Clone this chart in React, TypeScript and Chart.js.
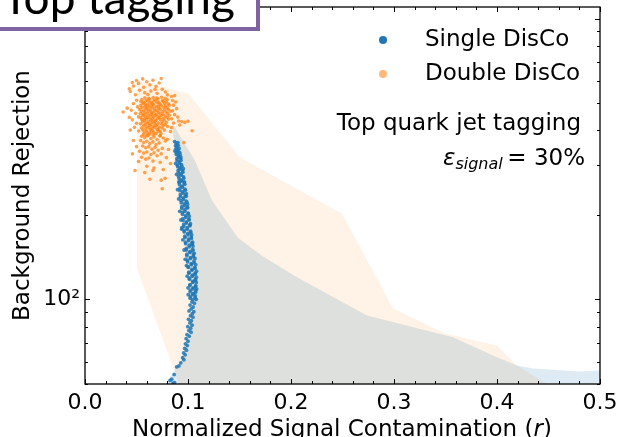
import { useEffect, useRef } from 'react';
import { Chart, registerables } from 'chart.js';

Chart.register(...registerables);

type Pt = [number, number];

// Axis ticks
const xMajorTicks = [0, 0.1, 0.2, 0.3, 0.4, 0.5];
const xTickLabels = ['0.0', '0.1', '0.2', '0.3', '0.4', '0.5'];
const xMinorTicks = [0.02, 0.04, 0.06, 0.08, 0.12, 0.14, 0.16, 0.18, 0.22, 0.24, 0.26, 0.28, 0.32, 0.34, 0.36, 0.38, 0.42, 0.44, 0.46, 0.48];
const yMajorTicks = [100, 1000];
const yTickLabels = ['10²', '10³'];
const yMinorTicks = [50, 60, 70, 80, 90, 200, 300, 400, 500, 600, 700, 800, 900];

// Spread of the Double DisCo runs (outline of the shaded region)
const doubleDiscoBand: Pt[] = [
  [0.0505, 602], [0.1003, 541], [0.1505, 320], [0.2495, 202], [0.299, 93],
  [0.3495, 75.7], [0.4, 68.6], [0.4194, 58.2], [0.4485, 50], [0.0913, 50], [0.0505, 129],
];

// Spread of the Single DisCo runs
const singleDiscoBand: Pt[] = [
  [0.0845, 427], [0.1068, 312], [0.1233, 225], [0.1485, 166], [0.1718, 143], [0.2058, 120],
  [0.2738, 87.7], [0.3573, 73.3], [0.3961, 63.2], [0.4194, 58.2], [0.435, 56.8], [0.4806, 55.4],
  [0.5, 55.9], [0.5, 50], [0.0786, 50], [0.0854, 55], [0.0951, 61.7], [0.1019, 77.6],
  [0.1049, 99.2], [0.1019, 126.8], [0.0981, 176], [0.0922, 244], [0.0874, 339],
];

// Single DisCo: (signal contamination, background rejection)
const singleDisco: Pt[] = [
  [0.0870, 365], [0.0886, 360], [0.0902, 362],
  [0.0879, 353], [0.0893, 350], [0.0905, 354],
  [0.0882, 344], [0.0898, 341], [0.0914, 345],
  [0.0885, 333], [0.0901, 337], [0.0918, 334],
  [0.0887, 328], [0.0908, 325], [0.0923, 329],
  [0.0892, 317], [0.0911, 321], [0.0929, 318],
  [0.0894, 312], [0.0915, 309], [0.0932, 313],
  [0.0895, 301], [0.0918, 305], [0.0937, 302],
  [0.0900, 297], [0.0920, 294], [0.0940, 298],
  [0.0904, 288], [0.0925, 291], [0.0947, 287],
  [0.0907, 283], [0.0929, 280], [0.0950, 284],
  [0.0908, 274], [0.0935, 277], [0.0957, 273],
  [0.0914, 269], [0.0936, 266], [0.0958, 270],
  [0.0916, 261], [0.0941, 264], [0.0962, 260],
  [0.0917, 256], [0.0943, 253], [0.0969, 257],
  [0.0920, 248], [0.0945, 251], [0.0970, 247],
  [0.0921, 244], [0.0950, 242], [0.0975, 245],
  [0.0925, 236], [0.0951, 239], [0.0976, 235],
  [0.0927, 232], [0.0956, 230], [0.0982, 233],
  [0.0932, 225], [0.0956, 227], [0.0983, 224],
  [0.0934, 221], [0.0964, 219], [0.0989, 222],
  [0.0939, 214], [0.0966, 216], [0.0992, 213],
  [0.0940, 211], [0.0970, 209], [0.0997, 212],
  [0.0945, 204], [0.0970, 206], [0.1001, 203],
  [0.0947, 201], [0.0978, 199], [0.1003, 202],
  [0.0951, 194], [0.0979, 196], [0.1009, 193],
  [0.0952, 191], [0.0985, 189], [0.1011, 192],
  [0.0958, 185], [0.0984, 187], [0.1016, 184],
  [0.0959, 182], [0.0992, 180], [0.1019, 183],
  [0.0963, 176], [0.0993, 178], [0.1025, 175],
  [0.0963, 174], [0.0998, 172], [0.1026, 173],
  [0.0969, 168], [0.1000, 170], [0.1032, 167],
  [0.0971, 166], [0.1005, 164], [0.1033, 165],
  [0.0976, 160], [0.1006, 162], [0.1038, 159],
  [0.0977, 158], [0.1012, 156], [0.1040, 157],
  [0.0983, 152], [0.1012, 154], [0.1046, 151],
  [0.0984, 150], [0.1019, 148], [0.1048, 149],
  [0.0989, 145], [0.1019, 147], [0.1052, 144],
  [0.0989, 143], [0.1024, 141], [0.1053, 142],
  [0.0995, 138], [0.1025, 140], [0.1058, 137],
  [0.0996, 136], [0.1031, 134], [0.1060, 135],
  [0.1002, 131], [0.1033, 133], [0.1066, 130],
  [0.1003, 130], [0.1038, 128], [0.1067, 129],
  [0.1008, 125], [0.1038, 127], [0.1070, 124],
  [0.1009, 124], [0.1042, 122], [0.1069, 123],
  [0.1014, 119], [0.1042, 121], [0.1072, 118],
  [0.1014, 118], [0.1046, 116], [0.1072, 117],
  [0.1019, 113], [0.1046, 115], [0.1075, 112],
  [0.1019, 112], [0.1049, 110], [0.1073, 111],
  [0.1022, 108], [0.1048, 109], [0.1076, 107.5],
  [0.1021, 106.5], [0.1049, 105], [0.1073, 106],
  [0.1023, 102.5], [0.1046, 104], [0.1071, 103],
  [0.1021, 101], [0.1047, 100], [0.1069, 101.5],
  // scattered runs along both edges of the band
  [0.0872, 338], [0.0930, 322], [0.0880, 305], [0.0955, 292], [0.0889, 279], [0.0966, 262],
  [0.0898, 246], [0.0984, 238], [0.0909, 228], [0.0996, 218], [0.0920, 206], [0.1012, 198],
  [0.0931, 192], [0.1024, 186], [0.0939, 178], [0.1035, 170], [0.0950, 163], [0.1048, 155],
  [0.0962, 150], [0.1060, 146], [0.0973, 139], [0.1068, 140], [0.0985, 132], [0.1075, 133],
  [0.0992, 121], [0.1081, 120], [0.1000, 110], [0.1084, 109], [0.1002, 104], [0.1080, 100],
  [0.1080, 115], [0.1083, 126], [0.0940, 180], [0.1045, 160], [0.0911, 262],
  // sparse tail towards low rejection
  [0.1038, 98], [0.1062, 97], [0.1020, 95.5], [0.1050, 94], [0.1031, 92.5],
  [0.1010, 91], [0.1057, 90.5], [0.1042, 89], [0.1024, 87.5], [0.1048, 86.5],
  [0.1005, 85], [0.1033, 84], [0.1018, 82.5], [0.1040, 81], [0.0998, 80],
  [0.1026, 79], [0.1008, 77.5], [0.1030, 76.5], [0.0990, 75], [0.1012, 74],
  [0.0982, 72.5], [0.1000, 71], [0.0975, 69.5], [0.0993, 68.5], [0.0968, 67],
  [0.0985, 66], [0.0958, 64.5], [0.0972, 63.5], [0.0948, 62], [0.0960, 61],
  [0.0930, 59.5], [0.0912, 58], [0.0890, 57.5], [0.0866, 54], [0.0842, 52],
  [0.0826, 51.5], [0.0870, 50.6], [0.0855, 50.3],
];

// Double DisCo: (signal contamination, background rejection)
const doubleDisco: Pt[] = [
  [0.0581, 523], [0.0619, 520], [0.0662, 524], [0.0698, 521], [0.0743, 525], [0.0779, 519],
  [0.0552, 515], [0.0594, 512], [0.0628, 516], [0.0671, 513], [0.0708, 517], [0.0752, 511], [0.0798, 514],
  [0.0543, 507], [0.0571, 504], [0.0612, 508], [0.0649, 505], [0.0683, 509], [0.0718, 503], [0.0762, 507], [0.0789, 505],
  [0.0562, 499], [0.0588, 496], [0.0631, 500], [0.0659, 497], [0.0702, 501], [0.0728, 495], [0.0771, 499], [0.0808, 497],
  [0.0541, 491], [0.0583, 488], [0.0609, 492], [0.0644, 489], [0.0668, 493], [0.0712, 487], [0.0739, 491], [0.0781, 489], [0.0819, 492],
  [0.0553, 483], [0.0592, 480], [0.0621, 484], [0.0652, 481], [0.0693, 485], [0.0719, 479], [0.0763, 483], [0.0798, 480],
  [0.0531, 475], [0.0572, 472], [0.0601, 476], [0.0633, 473], [0.0674, 477], [0.0699, 471], [0.0731, 475], [0.0772, 473], [0.0809, 476],
  [0.0549, 467], [0.0582, 464], [0.0618, 468], [0.0648, 465], [0.0679, 469], [0.0711, 463], [0.0752, 467], [0.0788, 465], [0.0828, 468],
  [0.0538, 459], [0.0569, 456], [0.0603, 460], [0.0642, 457], [0.0661, 461], [0.0692, 455], [0.0729, 459], [0.0758, 457], [0.0801, 460],
  [0.0561, 452], [0.0588, 449], [0.0622, 453], [0.0651, 450], [0.0683, 454], [0.0709, 448], [0.0741, 452], [0.0779, 450], [0.0818, 453],
  [0.0542, 444], [0.0579, 441], [0.0608, 445], [0.0632, 442], [0.0668, 446], [0.0701, 440], [0.0722, 444], [0.0762, 442], [0.0799, 445],
  [0.0551, 437], [0.0573, 434], [0.0598, 438], [0.0641, 435], [0.0659, 439], [0.0688, 433], [0.0731, 437], [0.0768, 435], [0.0811, 438],
  [0.0559, 429], [0.0591, 426], [0.0619, 430], [0.0652, 427], [0.0681, 431], [0.0712, 425], [0.0749, 429], [0.0789, 427],
  [0.0539, 422], [0.0582, 419], [0.0611, 423], [0.0638, 420], [0.0672, 424], [0.0698, 418], [0.0741, 422], [0.0778, 420],
  [0.0568, 415], [0.0601, 412], [0.0629, 416], [0.0662, 413], [0.0689, 417], [0.0721, 411], [0.0758, 415], [0.0801, 413],
  [0.0548, 408], [0.0589, 405], [0.0621, 409], [0.0651, 406], [0.0679, 410], [0.0712, 404], [0.0748, 408],
  [0.0561, 401], [0.0598, 398], [0.0632, 402], [0.0659, 399], [0.0701, 403], [0.0729, 397], [0.0771, 401],
  [0.0579, 394], [0.0612, 391], [0.0641, 395], [0.0669, 392], [0.0708, 396], [0.0738, 390],
  [0.0568, 387], [0.0601, 384], [0.0628, 388], [0.0662, 385], [0.0689, 389], [0.0728, 383],
  // upper fringe
  [0.0500, 602], [0.0470, 575], [0.0520, 588], [0.0560, 610], [0.0600, 596], [0.0630, 581],
  [0.0580, 545], [0.0660, 603], [0.0690, 574], [0.0720, 590], [0.0750, 560], [0.0780, 548],
  [0.0530, 556], [0.0610, 537], [0.0700, 542], [0.0800, 535], [0.0840, 528], [0.0640, 552],
  [0.0440, 550], [0.0490, 536], [0.0870, 532], [0.0570, 570], [0.0740, 612], [0.0460, 592],
  [0.0680, 560], [0.0430, 563],
  // left fringe
  [0.0500, 512], [0.0470, 498], [0.0510, 485], [0.0450, 472], [0.0490, 460], [0.0520, 447],
  [0.0460, 436], [0.0500, 424], [0.0480, 410], [0.0520, 398], [0.0440, 401], [0.0410, 480],
  [0.0430, 445], [0.0370, 465],
  // right fringe
  [0.0850, 511], [0.0860, 492], [0.0850, 470], [0.0870, 455], [0.0840, 440], [0.0860, 425],
  [0.0840, 409], [0.0830, 396], [0.0890, 478], [0.0910, 432], [0.0940, 430], [0.0970, 427],
  [0.1000, 431], [0.0920, 418], [0.0960, 362], [0.1040, 399], [0.0880, 505], [0.0900, 446],
  // lower part of the cloud
  [0.0550, 381], [0.0580, 377], [0.0610, 383], [0.0640, 374], [0.0670, 379], [0.0700, 371], [0.0730, 382], [0.0760, 376],
  [0.0540, 368], [0.0570, 362], [0.0600, 366], [0.0630, 359], [0.0660, 364], [0.0690, 356], [0.0720, 361], [0.0780, 367],
  [0.0560, 352], [0.0590, 347], [0.0620, 350], [0.0650, 343], [0.0680, 348], [0.0710, 340], [0.0750, 345],
  [0.0530, 337], [0.0570, 332], [0.0600, 335], [0.0640, 328], [0.0670, 333], [0.0700, 325], [0.0740, 330],
  [0.0550, 321], [0.0590, 316], [0.0620, 319], [0.0660, 311], [0.0730, 308], [0.0790, 320],
  [0.0600, 298], [0.0670, 294], [0.0760, 290], [0.0520, 310], [0.0810, 342], [0.0830, 305],
  [0.0500, 350], [0.0470, 368], [0.0460, 330], [0.0800, 372], [0.0580, 283], [0.0660, 288],
  [0.0630, 268], [0.0740, 266], [0.0750, 248], [0.0777, 270], [0.0485, 288],
];

const MAJOR_LEN = 5;
const MINOR_LEN = 3;

// Closed frame with inward ticks on all four sides
const axisFrame = {
  id: 'axisFrame',
  afterDatasetsDraw(chart: any) {
    const { ctx, chartArea: a } = chart;
    const xs = chart.scales.x;
    const ys = chart.scales.y;
    ctx.save();
    ctx.strokeStyle = '#000';
    ctx.lineWidth = 1;
    ctx.beginPath();
    const xt = (v: number, len: number) => {
      const p = Math.round(xs.getPixelForValue(v)) + 0.5;
      ctx.moveTo(p, a.bottom);
      ctx.lineTo(p, a.bottom - len);
      ctx.moveTo(p, a.top);
      ctx.lineTo(p, a.top + len);
    };
    const yt = (v: number, len: number) => {
      const p = Math.round(ys.getPixelForValue(v)) + 0.5;
      ctx.moveTo(a.left, p);
      ctx.lineTo(a.left + len, p);
      ctx.moveTo(a.right, p);
      ctx.lineTo(a.right - len, p);
    };
    xMajorTicks.forEach((v) => xt(v, MAJOR_LEN));
    xMinorTicks.forEach((v) => xt(v, MINOR_LEN));
    yMajorTicks.forEach((v) => yt(v, MAJOR_LEN));
    yMinorTicks.forEach((v) => yt(v, MINOR_LEN));
    ctx.stroke();
    ctx.lineWidth = 1.3;
    ctx.strokeRect(a.left, a.top, a.right - a.left, a.bottom - a.top);
    ctx.restore();
  },
};

const toXY = (pts: Pt[]) => pts.map(([x, y]) => ({ x, y }));

const labelFor = (v: number, ticks: number[], labels: string[]) => {
  const i = ticks.findIndex((t) => Math.abs(t - v) < 1e-9 * Math.max(1, t));
  return i >= 0 ? labels[i] : '';
};

function ScatterChart() {
  const canvasRef = useRef<HTMLCanvasElement | null>(null);

  useEffect(() => {
    const canvas = canvasRef.current;
    if (!canvas) return;
    Chart.defaults.font.family = "'DejaVu Sans', sans-serif";
    const chart = new Chart(canvas, {
      type: 'line',
      data: {
        datasets: [
          {
            label: 'Single DisCo',
            data: toXY(singleDisco),
            showLine: false,
            pointRadius: 1.9,
            pointBorderWidth: 0,
            pointBackgroundColor: 'rgba(31,119,180,0.85)',
            order: 0,
          },
          {
            label: 'Double DisCo',
            data: toXY(doubleDisco),
            showLine: false,
            pointRadius: 1.8,
            pointBorderWidth: 0,
            pointBackgroundColor: 'rgba(255,127,14,0.72)',
            order: 1,
          },
          {
            label: 'Single DisCo spread',
            data: toXY(singleDiscoBand),
            fill: 'shape',
            backgroundColor: 'rgba(31,119,180,0.15)',
            borderColor: 'transparent',
            borderWidth: 0,
            pointRadius: 0,
            tension: 0,
            order: 2,
          },
          {
            label: 'Double DisCo spread',
            data: toXY(doubleDiscoBand),
            fill: 'shape',
            backgroundColor: 'rgba(255,127,14,0.1)',
            borderColor: 'transparent',
            borderWidth: 0,
            pointRadius: 0,
            tension: 0,
            order: 3,
          },
        ] as any,
      },
      options: {
        animation: false,
        responsive: false,
        devicePixelRatio: 1,
        events: [],
        layout: { padding: { left: 0, right: 17, top: 7, bottom: 0 } },
        plugins: {
          legend: { display: false },
          tooltip: { enabled: false },
        },
        scales: {
          x: {
            type: 'linear',
            min: 0,
            max: 0.5,
            afterBuildTicks: (s: any) => {
              s.ticks = [...xMajorTicks, ...xMinorTicks].sort((p, q) => p - q).map((value) => ({ value }));
            },
            afterFit: (s: any) => {
              s.height = 53;
              s.paddingLeft = 0;
              s.paddingRight = 0;
            },
            grid: { display: false, drawTicks: false },
            border: { display: false },
            ticks: {
              autoSkip: false,
              maxRotation: 0,
              padding: 6,
              color: '#000',
              font: { size: 22 },
              callback: (v: any) => labelFor(Number(v), xMajorTicks, xTickLabels),
            },
          },
          y: {
            type: 'logarithmic',
            min: 50,
            max: 1100,
            afterBuildTicks: (s: any) => {
              s.ticks = [...yMajorTicks, ...yMinorTicks].sort((p, q) => p - q).map((value) => ({ value }));
            },
            afterFit: (s: any) => {
              s.width = 85;
              s.paddingTop = 0;
              s.paddingBottom = 0;
            },
            grid: { display: false, drawTicks: false },
            border: { display: false },
            title: {
              display: true,
              text: 'Background Rejection',
              color: '#000',
              font: { size: 23 },
              padding: { top: 9, bottom: 0 },
            },
            ticks: {
              autoSkip: false,
              padding: 5,
              color: '#000',
              font: { size: 22 },
              callback: (v: any) => labelFor(Number(v), yMajorTicks, yTickLabels),
            },
          },
        },
      } as any,
      plugins: [axisFrame],
    });
    return () => chart.destroy();
  }, []);

  return <canvas ref={canvasRef} width={617} height={437} style={{ display: 'block' }} />;
}

const textFont = "'DejaVu Sans', sans-serif";

export default function App() {
  return (
    <div style={{ position: 'absolute', left: 0, top: 0, width: 617, height: 437, background: '#fff', overflow: 'hidden' }}>
      <ScatterChart />
      <svg width={617} height={437} style={{ position: 'absolute', left: 0, top: 0 }}>
        <rect x={-10} y={-20} width={268} height={49} fill="#fff" stroke="#8064a2" strokeWidth={4} />
        <text x={2} y={14} fontFamily="Lato, sans-serif" fontSize={46} fill="#000">Top tagging</text>

        <circle cx={383} cy={40} r={4} fill="#1f77b4" />
        <text x={425} y={46} fontFamily={textFont} fontSize={23} fill="#000">Single DisCo</text>
        <circle cx={383} cy={74} r={4} fill="rgba(255,127,14,0.55)" />
        <text x={425} y={80} fontFamily={textFont} fontSize={23} fill="#000">Double DisCo</text>

        <text x={581} y={130} textAnchor="end" fontFamily={textFont} fontSize={23} fill="#000">Top quark jet tagging</text>
        <text x={585} y={165} textAnchor="end" fontFamily={textFont} fontSize={23} fill="#000">
          <tspan fontStyle="italic">ε</tspan>
          <tspan fontStyle="italic" fontSize={16} dy={4}>signal</tspan>
          <tspan dy={-4}>{'\u2009= 30%'}</tspan>
        </text>

        <text x={342} y={436} textAnchor="middle" fontFamily={textFont} fontSize={23} fill="#000">
          Normalized Signal Contamination (<tspan fontStyle="italic">r</tspan>)
        </text>
      </svg>
    </div>
  );
}
